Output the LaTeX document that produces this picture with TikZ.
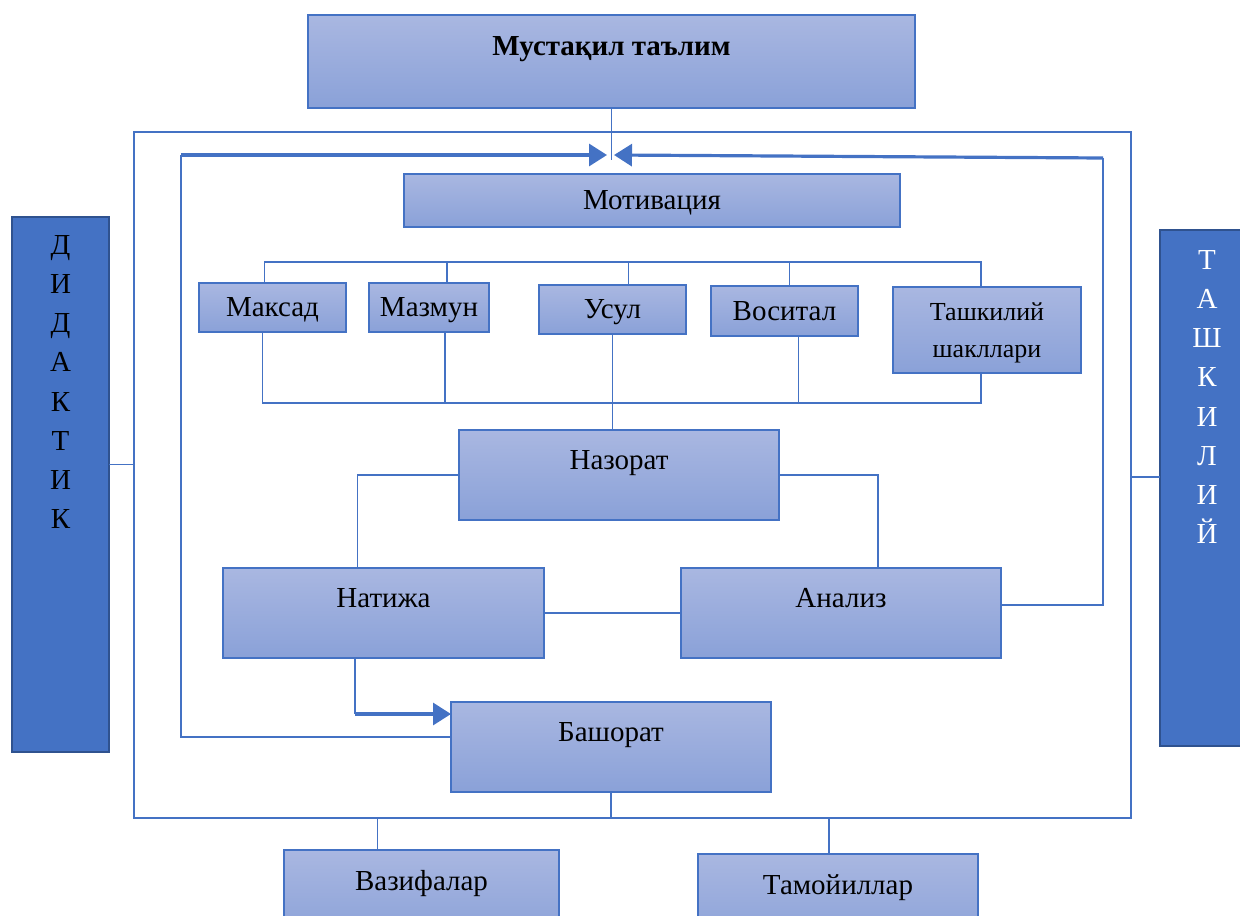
\documentclass[tikz,border=0pt]{standalone}
\usepackage{fontspec}
\setmainfont{Liberation Serif}
\usepackage{tikz}
\usetikzlibrary{positioning,arrows.meta}
\definecolor{boxtop}{HTML}{A9B7E1}
\definecolor{boxbottom}{HTML}{8AA1D8}
\definecolor{boxline}{HTML}{4472C4}
\definecolor{barfill}{HTML}{4472C4}
\definecolor{barline}{HTML}{2F528F}
\tikzset{
    grad-box/.style = {draw=boxline, line width=0.9pt, top color=boxtop, bottom color=boxbottom, rectangle, inner sep=0pt, outer sep=0pt, align=center, text depth=0pt, font=\fontsize{14.5}{17}\selectfont},
    one-line/.style = {text height=9pt},
    box-text/.style = {inner sep=3pt, font=\fontsize{14.5}{17}\selectfont},
    side-bar/.style = {draw=barline, line width=1.2pt, fill=barfill, rectangle, inner sep=0pt, outer sep=0pt},
    bar-letters/.style = {align=center, inner sep=0pt, font=\fontsize{14.5}{19.6}\selectfont},
    wire/.style = {draw=boxline, line width=0.7pt},
    thick-arrow/.style = {draw=boxline, line width=1.6pt, -{Triangle[length=9pt,width=11pt]}},
}

\begin{document}
\begin{tikzpicture}[x=0.5pt, y=-0.5pt]
\clip (0,0) rectangle (1240,915);
% boxes
\node[grad-box, minimum width=303.5pt, minimum height=46.5pt] (title) at (611.5,61.5) {};
\node[box-text, below=7.5pt, font=\fontsize{14.5}{17}\selectfont\bfseries] (title-text) at (title.north) {Мустақил таълим};
\node[grad-box, one-line, minimum width=248pt, minimum height=26.5pt] (motiv) at (652,200.5) {Мотивация};
\node[grad-box, one-line, minimum width=73.5pt, minimum height=24.5pt] (maksad) at (272.5,307.5) {Максад};
\node[grad-box, one-line, minimum width=60pt, minimum height=24.5pt] (mazmun) at (429,307.5) {Мазмун};
\node[grad-box, one-line, minimum width=73.5pt, minimum height=24.5pt] (usul) at (612.5,309.5) {Усул};
\node[grad-box, one-line, minimum width=73.5pt, minimum height=25pt] (vosital) at (784.5,311) {Воситал};
\node[grad-box, minimum width=94pt, minimum height=43pt, font=\fontsize{13}{18.5}\selectfont] (tashkil) at (987,330) {Ташкилий\\шакллари};
\node[grad-box, minimum width=160pt, minimum height=45pt] (nazorat) at (619,475) {};
\node[box-text, below=7pt] (nazorat-text) at (nazorat.north) {Назорат};
\node[grad-box, minimum width=160.5pt, minimum height=45pt] (natija) at (383.5,613) {};
\node[box-text, below=7pt] (natija-text) at (natija.north) {Натижа};
\node[grad-box, minimum width=160pt, minimum height=45pt] (analiz) at (841,613) {};
\node[box-text, below=7pt] (analiz-text) at (analiz.north) {Анализ};
\node[grad-box, minimum width=160pt, minimum height=45pt] (bashorat) at (611,747) {};
\node[box-text, below=7pt] (bashorat-text) at (bashorat.north) {Башорат};
\node[grad-box, minimum width=137.5pt, minimum height=45pt] (vazifa) at (421.5,895) {};
\node[box-text, below=7pt] (vazifa-text) at (vazifa.north) {Вазифалар};
\node[grad-box, minimum width=140pt, minimum height=45pt] (tamoy) at (838,899) {};
\node[box-text, below=7pt] (tamoy-text) at (tamoy.north) {Тамойиллар};
% side bars
\node[side-bar, minimum width=48.5pt, minimum height=267.5pt] (didaktik) at (60.5,484.5) {};
\node[bar-letters, below=9pt] (didaktik-text) at (didaktik.north) {Д\\И\\Д\\А\\К\\Т\\И\\К};
\node[side-bar, minimum width=47pt, minimum height=258pt] (tashkiliy) at (1207,488) {};
\node[bar-letters, below=10pt, text=white] (tashkiliy-text) at (tashkiliy.north) {Т\\А\\Ш\\К\\И\\Л\\И\\Й};
% frame and loop
\coordinate (frame-tl) at (134,132);
\coordinate (frame-br) at (1131,818);
\coordinate (loop-tl) at (181,155);
\coordinate (loop-bl) at (181,737);
\coordinate (loop-tr) at (1103,158);
\coordinate (loop-br) at (1103,605);
\coordinate (tip-l) at (607,155);
\coordinate (tip-r) at (614,155);
\coordinate (top-bar) at (0,262);
\coordinate (low-bar) at (0,403);
\coordinate (bend) at (355,714);
\draw[wire] (frame-tl) rectangle (frame-br);
\draw[wire] (title.south) -- ([yshift=-26pt]title.south);
\draw[thick-arrow] (loop-tl) -- (tip-l);
\draw[thick-arrow] (loop-tr) -- (tip-r);
\draw[wire] (loop-tl) -- (loop-bl) -- (loop-bl -| bashorat.west);
\draw[wire] (loop-tr) -- (loop-br) -- (loop-br -| analiz.east);
\draw[wire] ([yshift=10pt]didaktik.east) -- ([yshift=10pt]didaktik.east -| frame-tl);
\draw[wire] ([yshift=5.5pt]tashkiliy.west) -- ([yshift=5.5pt]tashkiliy.west -| frame-br);
% branches
\draw[wire] ([xshift=-4pt]maksad.north) -- ([xshift=-4pt]maksad.north |- top-bar) -- ([xshift=-3pt]tashkil.north |- top-bar) -- ([xshift=-3pt]tashkil.north);
\draw[wire] ([xshift=9pt]mazmun.north) -- ([xshift=9pt]mazmun.north |- top-bar);
\draw[wire] ([xshift=8pt]usul.north) -- ([xshift=8pt]usul.north |- top-bar);
\draw[wire] ([xshift=2.5pt]vosital.north) -- ([xshift=2.5pt]vosital.north |- top-bar);
\draw[wire] ([xshift=-5pt]maksad.south) -- ([xshift=-5pt]maksad.south |- low-bar) -- ([xshift=-3pt]tashkil.south |- low-bar) -- ([xshift=-3pt]tashkil.south);
\draw[wire] ([xshift=8pt]mazmun.south) -- ([xshift=8pt]mazmun.south |- low-bar);
\draw[wire] ([xshift=7pt]vosital.south) -- ([xshift=7pt]vosital.south |- low-bar);
\draw[wire] (usul.south) -- (usul.south |- nazorat.north);
% lower part
\draw[wire] (nazorat.west) -| ([xshift=-13pt]natija.north);
\draw[wire] (nazorat.east) -| ([xshift=18.5pt]analiz.north);
\draw[wire] (natija.east) -- (analiz.west);
\draw[wire] (natija.south -| bend) -- (bend);
\draw[thick-arrow] (bend) -- (bend -| bashorat.west);
\draw[wire] (bashorat.south) -- (bashorat.south |- frame-br);
\draw[wire] ([xshift=-22pt]vazifa.north) -- ([xshift=-22pt]vazifa.north |- frame-br);
\draw[wire] ([xshift=-4.5pt]tamoy.north) -- ([xshift=-4.5pt]tamoy.north |- frame-br);
\end{tikzpicture}
\end{document}
